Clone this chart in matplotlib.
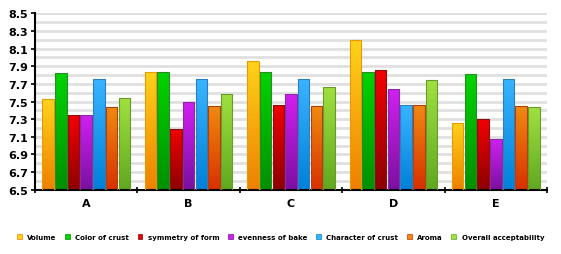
import numpy as np
import matplotlib
matplotlib.use("Agg")
import matplotlib.pyplot as plt
from matplotlib.colors import LinearSegmentedColormap
from matplotlib.patches import Patch

groups = ["A", "B", "C", "D", "E"]
series = ["Volume", "Color of crust", "symmetry of form", "evenness of bake",
          "Character of crust", "Aroma", "Overall acceptability"]

volume = [7.53, 7.84, 7.96, 8.20, 7.26]
color_crust = [7.82, 7.83, 7.83, 7.83, 7.81]
symmetry = [7.35, 7.19, 7.46, 7.86, 7.30]
evenness = [7.35, 7.49, 7.58, 7.64, 7.07]
character = [7.76, 7.75, 7.76, 7.46, 7.76]
aroma = [7.44, 7.45, 7.45, 7.46, 7.45]
overall = [7.54, 7.59, 7.67, 7.74, 7.44]

values = [volume, color_crust, symmetry, evenness, character, aroma, overall]

# (top colour, bottom colour, edge)
colors = [("#ffd21a", "#ee8000", "#e89a00"),
          ("#00d400", "#008f00", "#2a8a2a"),
          ("#f20000", "#8c0000", "#8a1010"),
          ("#d020f0", "#7a10a0", "#8a2aa0"),
          ("#3ab4ff", "#0080d8", "#2a80c0"),
          ("#f08a10", "#d83000", "#b04010"),
          ("#a0e040", "#60a820", "#6a9a2a")]

fig = plt.figure(figsize=(5.61, 2.55), dpi=100)
ax = fig.add_axes([35 / 561, 64.3 / 255, 512 / 561, 176.4 / 255])

ymin, ymax = 6.5, 8.5
for g in np.arange(6.5, 8.51, 0.1):
    ax.axhline(g, color="#e0e0e0", lw=2.0, zorder=0)

bw = 0.124
n = len(series)
x = np.arange(len(groups))
for i, (vals, (c_top, c_bot, c_edge)) in enumerate(zip(values, colors)):
    cmap = LinearSegmentedColormap.from_list("g%d" % i, [c_bot, c_top])
    offs = (i - (n - 1) / 2) * bw
    bars = ax.bar(x + offs, np.array(vals) - ymin, bw * 0.9, bottom=ymin,
                  facecolor="none", edgecolor=c_edge, lw=0.8, zorder=3)
    for b in bars:
        x0, y0 = b.get_x(), b.get_y()
        w, h = b.get_width(), b.get_height()
        grad = np.linspace(0, 1, 100).reshape(-1, 1)
        im = ax.imshow(grad, cmap=cmap, origin="lower", aspect="auto",
                       extent=[x0, x0 + w, y0, y0 + h], zorder=2)
        im.set_clip_path(b)

ax.set_xlim(-0.5, len(groups) - 0.5)
ax.set_ylim(ymin, ymax)
ax.set_yticks(np.arange(6.5, 8.51, 0.2))
ax.set_yticklabels(["%.1f" % v for v in np.arange(6.5, 8.51, 0.2)],
                   fontsize=8, fontweight="bold")
ax.set_xticks(np.arange(-0.5, len(groups), 1.0))
ax.set_xticklabels([])
ax.set_xticks(x, minor=True)
ax.set_xticklabels(groups, minor=True, fontsize=8, fontweight="bold")
ax.tick_params(axis="x", which="minor", length=0, pad=6)
ax.tick_params(axis="x", which="major", length=4, width=1.2, direction="inout")
ax.tick_params(axis="y", length=3, width=1.2, pad=2)

for s in ["top", "right"]:
    ax.spines[s].set_visible(False)
for s in ["left", "bottom"]:
    ax.spines[s].set_linewidth(1.5)

handles = [Patch(facecolor=c[0], edgecolor=c[1], lw=0.5) for c in colors]
fig.legend(handles, series, loc="center", bbox_to_anchor=(0.5, 17 / 255),
           ncol=7, frameon=False, prop={"size": 5, "weight": "bold"},
           handlelength=0.7, handleheight=0.7, columnspacing=1.2, handletextpad=0.8)

fig.savefig("out.png", dpi=100)
